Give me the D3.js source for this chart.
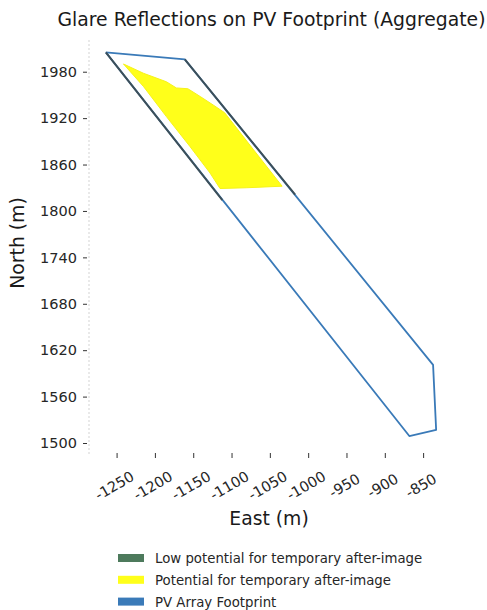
<!DOCTYPE html>
<html>
<head>
<meta charset="utf-8">
<script src="https://cdn.jsdelivr.net/npm/d3@7"></script>
<style>
  body { margin: 0; background: #fff; }
  svg { font-family: "DejaVu Sans", sans-serif; }
</style>
</head>
<body>
<div id="chart"></div>
<script>
// footprint outline (east, north) in metres
var footprintX = [-1264, -1161, -837, -833, -868, -1264];
var footprintY = [2005, 1996, 1601, 1517, 1509, 2005];

// glare area, potential for temporary after-image
var glareX = [-1241, -1215, -1185, -1172, -1157, -1141, -1124, -1109, -1072, -1034, -1080, -1115, -1128, -1154, -1185, -1215];
var glareY = [1990, 1978, 1967, 1959, 1958, 1948, 1937, 1927, 1880, 1832, 1830, 1829, 1849, 1883, 1922, 1961];

// low potential traces along the array edges
var lowX = [[-1264, -1112], [-1161, -1017]];
var lowY = [[2005, 1814], [1996, 1821]];

var xTicks = [-1250, -1200, -1150, -1100, -1050, -1000, -950, -900, -850];
var yTicks = [1500, 1560, 1620, 1680, 1740, 1800, 1860, 1920, 1980];

var legendLabels = ["Low potential for temporary after-image", "Potential for temporary after-image", "PV Array Footprint"];
var legendColors = ["#4d7a5c", "#ffff1a", "#3a7ab8"];

var W = 487, H = 610;
var plotL = 89, plotR = 453, plotT = 40, plotB = 455;

var svg = d3.select("#chart").append("svg")
	.attr("width", W)
	.attr("height", H);

var x = d3.scaleLinear()
	.domain([-1286, -811])
	.range([plotL, plotR]);

var y = d3.scaleLinear()
	.domain([1484.5, 2021])
	.range([plotB, plotT]);

// title
svg.append("text")
	.attr("x", 271.5)
	.attr("y", 26)
	.attr("text-anchor", "middle")
	.attr("font-size", 18.8)
	.attr("fill", "#1a1a1a")
	.text("Glare Reflections on PV Footprint (Aggregate)");

// faint left spine
svg.append("line")
	.attr("x1", plotL).attr("x2", plotL)
	.attr("y1", plotT).attr("y2", plotB)
	.attr("stroke", "#c8c8c8")
	.attr("stroke-width", 0.8)
	.attr("stroke-dasharray", "2,2");

// y axis
var yAxis = svg.append("g")
	.attr("transform", "translate(" + (plotL - 2) + ",0)")
	.call(d3.axisLeft(y).tickValues(yTicks).tickSize(4).tickPadding(6).tickFormat(d3.format("d")));
yAxis.select(".domain").remove();
yAxis.selectAll("line").attr("stroke", "#333");
yAxis.selectAll("text")
	.attr("font-size", 14.5)
	.attr("fill", "#262626")
	.attr("font-family", "DejaVu Sans");

// x axis
var xAxis = svg.append("g")
	.attr("transform", "translate(0," + plotB + ")")
	.call(d3.axisBottom(x).tickValues(xTicks).tickSize(3).tickFormat(function (d) { return String(d); }));
xAxis.select(".domain").remove();
xAxis.selectAll("line").attr("stroke", "#333").attr("y1", -2);
xAxis.selectAll("text")
	.attr("font-size", 14.5)
	.attr("fill", "#262626")
	.attr("font-family", "DejaVu Sans")
	.attr("text-anchor", "middle")
	.attr("dy", null)
	.attr("y", 0)
	.attr("transform", "translate(0,35) rotate(-30)");

svg.append("text")
	.attr("x", 269)
	.attr("y", 525)
	.attr("text-anchor", "middle")
	.attr("font-size", 18.8)
	.attr("fill", "#1a1a1a")
	.text("East (m)");

svg.append("text")
	.attr("transform", "translate(24,243) rotate(-90)")
	.attr("text-anchor", "middle")
	.attr("font-size", 18.8)
	.attr("fill", "#1a1a1a")
	.text("North (m)");

// glare polygon
var glarePts = glareX.map(function (d, i) { return [x(d), y(glareY[i])]; });
svg.append("path")
	.attr("d", d3.line().curve(d3.curveLinearClosed)(glarePts))
	.attr("fill", "#ffff1a")
	.attr("stroke", "#f6f21a")
	.attr("stroke-width", 1);

// footprint outline
var footPts = footprintX.map(function (d, i) { return [x(d), y(footprintY[i])]; });
svg.append("path")
	.attr("d", d3.line()(footPts))
	.attr("fill", "none")
	.attr("stroke", "#3a7ab8")
	.attr("stroke-width", 1.8)
	.attr("stroke-linejoin", "round");

// low potential traces
lowX.forEach(function (xs, k) {
	svg.append("line")
		.attr("x1", x(xs[0])).attr("y1", y(lowY[k][0]))
		.attr("x2", x(xs[1])).attr("y2", y(lowY[k][1]))
		.attr("stroke", "#3d4f58")
		.attr("stroke-width", 1.9);
});

// legend
var legend = svg.append("g");
legendLabels.forEach(function (label, i) {
	var ly = 558 + i * 21.8;
	legend.append("rect")
		.attr("x", 118)
		.attr("y", ly - 4)
		.attr("width", 26)
		.attr("height", 8)
		.attr("fill", legendColors[i]);
	legend.append("text")
		.attr("x", 155)
		.attr("y", ly + 5)
		.attr("font-size", 13.3)
		.attr("fill", "#262626")
		.text(label);
});
</script>
</body>
</html>
